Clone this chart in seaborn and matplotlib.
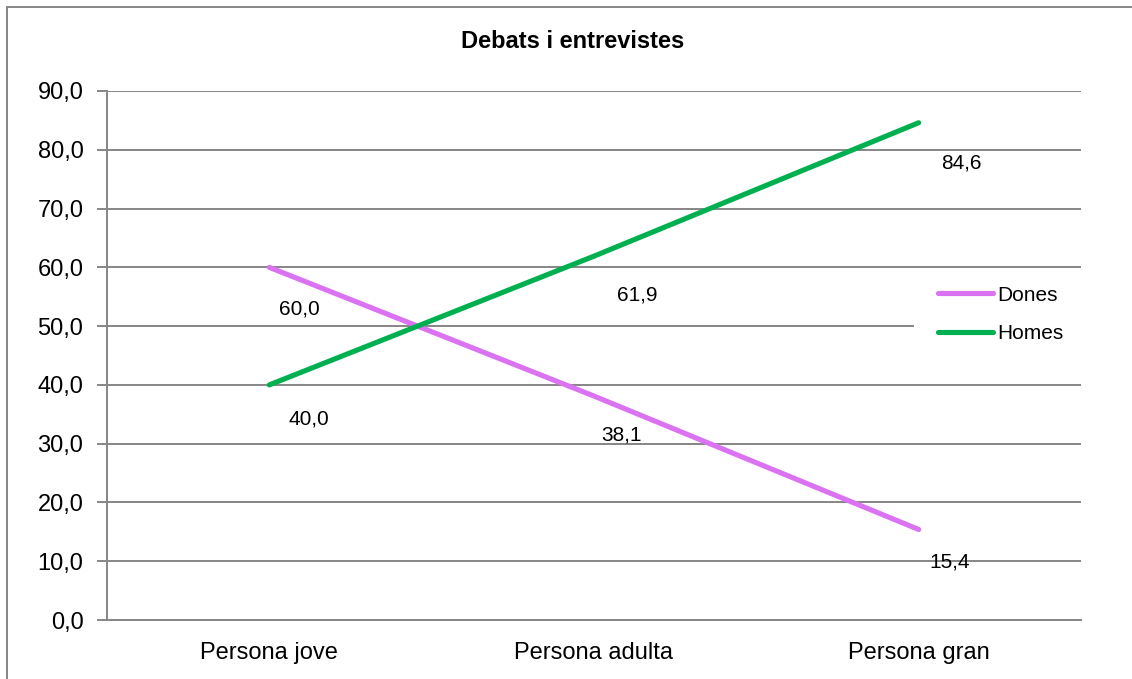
import pandas as pd
import seaborn as sns
import matplotlib.pyplot as plt
from matplotlib.patches import Rectangle
from matplotlib.ticker import FuncFormatter, FixedLocator

categories = ['Persona jove', 'Persona adulta', 'Persona gran']
dones = [60.0, 38.1, 15.4]
homes = [40.0, 61.9, 84.6]
series_names = ['Dones', 'Homes']
colors = {'Dones': '#DA72F2', 'Homes': '#00B050'}

# label offsets in pixels (right, down) like the Excel data labels
label_offsets = {
    'Dones': [(30, 42), (27, 39), (31, 33)],
    'Homes': [(40, 34), (43, 39), (43, 40)],
}

df = pd.DataFrame({
    'categoria': categories * 2,
    'valor': dones + homes,
    'serie': [series_names[0]] * 3 + [series_names[1]] * 3,
})

sns.set_style('white')
plt.rcParams['font.family'] = ['Liberation Sans', 'DejaVu Sans']
plt.rcParams['text.color'] = 'black'
plt.rcParams['axes.labelcolor'] = 'black'

grid_col = '#868686'
W, H = 1132, 679
fig = plt.figure(figsize=(W / 100, H / 100), dpi=100)
ax = fig.add_axes([107 / W, 1 - 620 / H, (1081 - 107) / W, (620 - 91) / H])

sns.lineplot(data=df, x='categoria', y='valor', hue='serie', palette=colors,
             sort=False, linewidth=3.7, ax=ax)
for line in ax.get_lines():
    line.set_solid_capstyle('round')

ax.set_xlim(-0.5, 2.5)
ax.set_ylim(0, 90)
ax.set_yticks(range(0, 91, 10))
ax.yaxis.set_major_formatter(FuncFormatter(lambda v, p: f'{v:.1f}'.replace('.', ',')))
ax.grid(axis='y', color=grid_col, linewidth=1.4)
ax.set_axisbelow(True)
ax.set_xlabel('')
ax.set_ylabel('')

ax.xaxis.set_minor_locator(FixedLocator([-0.5, 0.5, 1.5, 2.5]))
ax.tick_params(axis='x', which='major', length=0, pad=16, labelsize=17, labelcolor='black')
ax.tick_params(axis='x', which='minor', length=6, width=1.4, color=grid_col, direction='out')
ax.tick_params(axis='y', length=7, width=1.4, color=grid_col, pad=10, labelsize=17,
               labelcolor='black', left=True, direction='out')

for side in ['top', 'right']:
    ax.spines[side].set_visible(False)
for side in ['left', 'bottom']:
    ax.spines[side].set_color(grid_col)
    ax.spines[side].set_linewidth(1.4)

# data labels
for name, vals in zip(series_names, [dones, homes]):
    for i, v in enumerate(vals):
        dx, dy = label_offsets[name][i]
        ax.annotate(f'{v:.1f}'.replace('.', ','), xy=(i, v),
                    xytext=(dx * 0.72, -dy * 0.72), textcoords='offset points',
                    ha='center', va='center', fontsize=15, color='black')

# white legend area hiding the gridline behind it
ax.add_patch(Rectangle((914 / W, 1 - 355 / H), (1085 - 914) / W, 80 / H,
                       transform=fig.transFigure, facecolor='white', edgecolor='none',
                       zorder=1.5, clip_on=False))

handles, labels = ax.get_legend_handles_labels()
leg = ax.legend(handles, labels, loc='center left',
                bbox_to_anchor=(928 / W, 1 - 314.5 / H), bbox_transform=fig.transFigure,
                borderaxespad=0, frameon=False, fontsize=15,
                handlelength=2.6, handletextpad=0.2, labelspacing=0.95, borderpad=0.5)
for t in leg.get_texts():
    t.set_color('black')

fig.text(573 / W, 1 - 41 / H, 'Debats i entrevistes', ha='center', va='center',
         fontsize=17, fontweight='bold', color='black')

fig.patches.append(Rectangle((6.5 / W, -0.1), 1.2, 1 - 7 / H + 0.1, transform=fig.transFigure,
                             fill=False, edgecolor=grid_col, linewidth=1.4))

fig.savefig('out.png', dpi=100)
